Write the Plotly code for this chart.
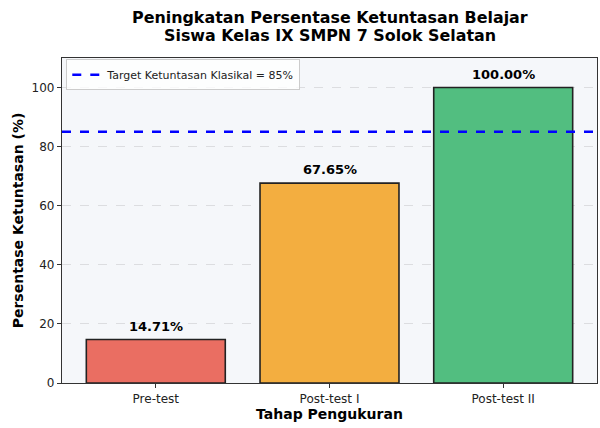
import plotly.graph_objects as go

categories = ["Pre-test", "Post-test I", "Post-test II"]
values = [14.71, 67.65, 100.00]
bar_colors = ["#EA6E62", "#F3AE40", "#52BE80"]
target_value = 85
target_label = "Target Ketuntasan Klasikal = 85%"
title_lines = ["Peningkatan Persentase Ketuntasan Belajar", "Siswa Kelas IX SMPN 7 Solok Selatan"]
y_ticks = [0, 20, 40, 60, 80, 100]

FONT = "DejaVu Sans"

fig = go.Figure()
fig.add_trace(go.Bar(
    x=categories, y=values, width=0.8,
    marker=dict(color=bar_colors, line=dict(color="#222222", width=1.6)),
    showlegend=False, hoverinfo="skip",
))
# legend entry for the target line
fig.add_trace(go.Scatter(
    x=[None], y=[None], mode="lines", name=target_label,
    line=dict(color="#0000FF", width=2.5, dash="dash"),
))
fig.add_shape(type="line", xref="paper", x0=0, x1=1, yref="y", y0=target_value, y1=target_value,
              line=dict(color="#0000FF", width=2.5, dash="dash"))

# value labels above bars
for c, v in zip(categories, values):
    fig.add_annotation(x=c, y=v, text=f"<b>{v:.2f}%</b>", showarrow=False,
                       yanchor="bottom", yshift=4,
                       font=dict(family=FONT, size=13, color="black"))

# two-line title
for i, line in enumerate(title_lines):
    fig.add_annotation(xref="paper", yref="paper", x=0.5, y=1, xanchor="center", yanchor="middle",
                       yshift=41 - 18 * i, text=f"<b>{line}</b>", showarrow=False,
                       font=dict(family=FONT, size=15.9, color="black"))

fig.update_layout(
    width=600, height=428,
    margin=dict(l=62, r=3, t=58, b=45),
    paper_bgcolor="white", plot_bgcolor="#F5F7FA",
    font=dict(family=FONT, size=12, color="#222222"),
    showlegend=True,
    legend=dict(x=0.008, y=0.996, xanchor="left", yanchor="top", itemwidth=30,
                bgcolor="rgba(255,255,255,0.8)", bordercolor="#CCCCCC", borderwidth=1,
                font=dict(family=FONT, size=11, color="#222222")),
)
fig.update_xaxes(range=[-0.54, 2.54], showline=True, linecolor="#333333", linewidth=1.2, mirror=True,
                 ticks="outside", ticklen=4, tickcolor="#333333", showgrid=False,
                 title=dict(text="Tahap Pengukuran", font=dict(family=FONT, size=14, color="black", weight="bold"), standoff=4))
fig.update_yaxes(range=[0, 110], tickvals=y_ticks, showline=True, linecolor="#333333", linewidth=1.2, mirror=True,
                 ticks="outside", ticklen=4, tickcolor="#333333",
                 showgrid=True, gridcolor="rgba(0,0,0,0.1)", griddash="dash", gridwidth=1, zeroline=False,
                 title=dict(text="Persentase Ketuntasan (%)", font=dict(family=FONT, size=14, color="black", weight="bold"), standoff=4))

fig.write_html("out.html", config={"displayModeBar": False},
               post_script="document.body.style.margin='0';document.body.style.padding='0';")
